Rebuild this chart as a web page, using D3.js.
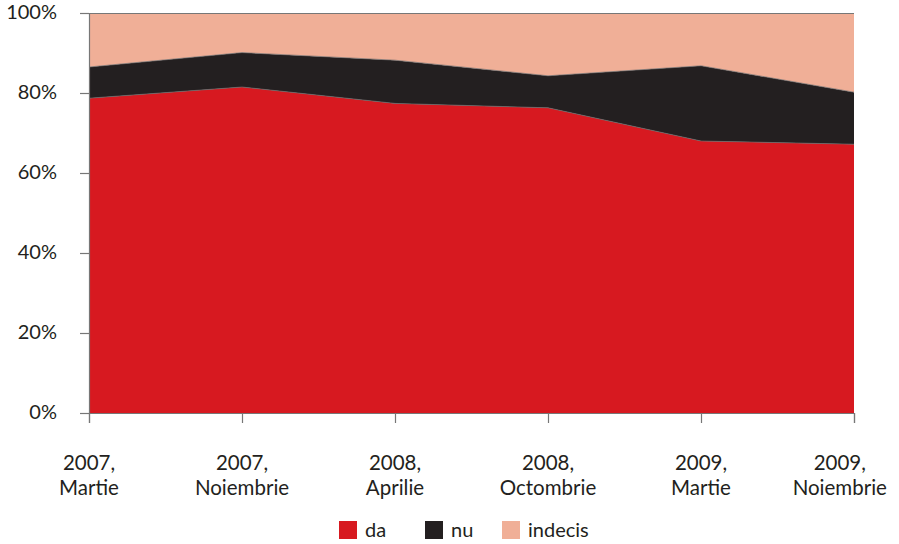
<!DOCTYPE html>
<meta charset="utf-8">
<script src="https://cdn.jsdelivr.net/npm/d3@7"></script>
<style>
  body { margin: 0; background: #fff; }
  svg text {
    font-family: Lato, "Open Sans", sans-serif;
    fill: #231f20;
  }
</style>
<div id="chart"></div>
<script>
  // values (percent)
  const periods = [
    ['2007,', 'Martie'],
    ['2007,', 'Noiembrie'],
    ['2008,', 'Aprilie'],
    ['2008,', 'Octombrie'],
    ['2009,', 'Martie'],
    ['2009,', 'Noiembrie']
  ]
  const da = [78.7, 81.5, 77.4, 76.3, 68.0, 67.2]
  const nu = [7.8, 8.6, 10.8, 8.0, 18.8, 13.0]
  const indecis = [13.5, 9.9, 11.8, 15.7, 13.2, 19.8]
  const seriesNames = ['da', 'nu', 'indecis']
  const seriesColors = ['#d71920', '#231f20', '#f0af97']
  const yTicks = [0, 20, 40, 60, 80, 100]

  const width = 899
  const height = 544
  const margin = { top: 13, right: 45, bottom: 131, left: 89 }

  const rows = periods.map((p, i) => ({ i, da: da[i], nu: nu[i], indecis: indecis[i] }))

  const svg = d3.select('#chart').append('svg')
    .attr('width', width)
    .attr('height', height)

  const x = d3.scaleLinear()
    .domain([0, periods.length - 1])
    .range([margin.left, width - margin.right])

  const y = d3.scaleLinear()
    .domain([0, 100])
    .range([height - margin.bottom, margin.top])

  const color = d3.scaleOrdinal().domain(seriesNames).range(seriesColors)

  const stacked = d3.stack().keys(seriesNames)(rows)

  const area = d3.area()
    .x(d => x(d.data.i))
    .y0(d => y(d[0]))
    .y1(d => y(d[1]))

  svg.append('g')
    .selectAll('path')
    .data(stacked)
    .join('path')
    .attr('fill', d => color(d.key))
    .attr('d', area)

  // thin grey edge between the layers
  const edge = d3.line()
    .x(d => x(d.data.i))
    .y(d => y(d[1]))
  svg.append('g')
    .selectAll('path')
    .data(stacked.slice(0, 2))
    .join('path')
    .attr('fill', 'none')
    .attr('stroke', '#6d6a6a')
    .attr('stroke-width', 0.7)
    .attr('d', edge)

  // top border
  svg.append('line')
    .attr('x1', x(0)).attr('x2', x(periods.length - 1))
    .attr('y1', y(100) + 0.5).attr('y2', y(100) + 0.5)
    .attr('stroke', '#777').attr('stroke-width', 1.2)

  // y axis
  const yAxis = d3.axisLeft(y).tickValues(yTicks).tickSize(9).tickFormat(d => d + '%')
  const gy = svg.append('g')
    .attr('transform', `translate(${x(0)},0)`)
    .call(yAxis)
  gy.select('.domain').attr('stroke', '#777').attr('stroke-width', 1.2)
  gy.selectAll('.tick line').attr('stroke', '#777').attr('stroke-width', 1.2)
  gy.selectAll('.tick text')
    .attr('x', -32)
    .attr('dy', '0.25em')
    .style('font-size', '20px')
    .style('fill', '#231f20')

  // x axis
  const xAxis = d3.axisBottom(x).tickValues(d3.range(periods.length)).tickSize(10).tickFormat('')
  const gx = svg.append('g')
    .attr('transform', `translate(0,${y(0)})`)
    .call(xAxis)
  gx.select('.domain').attr('stroke', '#777').attr('stroke-width', 1.2)
  gx.selectAll('.tick line').attr('stroke', '#777').attr('stroke-width', 1.2)

  const labels = svg.append('g')
    .selectAll('text')
    .data(periods)
    .join('text')
    .attr('text-anchor', 'middle')
    .style('font-size', '20.5px')
    .attr('x', (d, i) => x(i))
    .attr('y', y(0) + 57)
  labels.append('tspan')
    .text(d => d[0])
  labels.append('tspan')
    .attr('x', (d, i) => x(i))
    .attr('dy', 25)
    .text(d => d[1])
  // keep the labels inside the page
  labels.each(function (d, i) {
    const w = this.getBBox().width
    const cx = Math.min(x(i), width - 12 - w / 2)
    d3.select(this).attr('x', cx).selectAll('tspan').attr('x', cx)
  })

  // legend
  const legendX = [339, 425, 502]
  const legend = svg.append('g')
    .selectAll('g')
    .data(seriesNames)
    .join('g')
    .attr('transform', (d, i) => `translate(${legendX[i]},521)`)
  legend.append('rect')
    .attr('width', 18)
    .attr('height', 18)
    .attr('fill', d => color(d))
  legend.append('text')
    .attr('x', 26)
    .attr('y', 16)
    .style('font-size', '20px')
    .text(d => d)
</script>
